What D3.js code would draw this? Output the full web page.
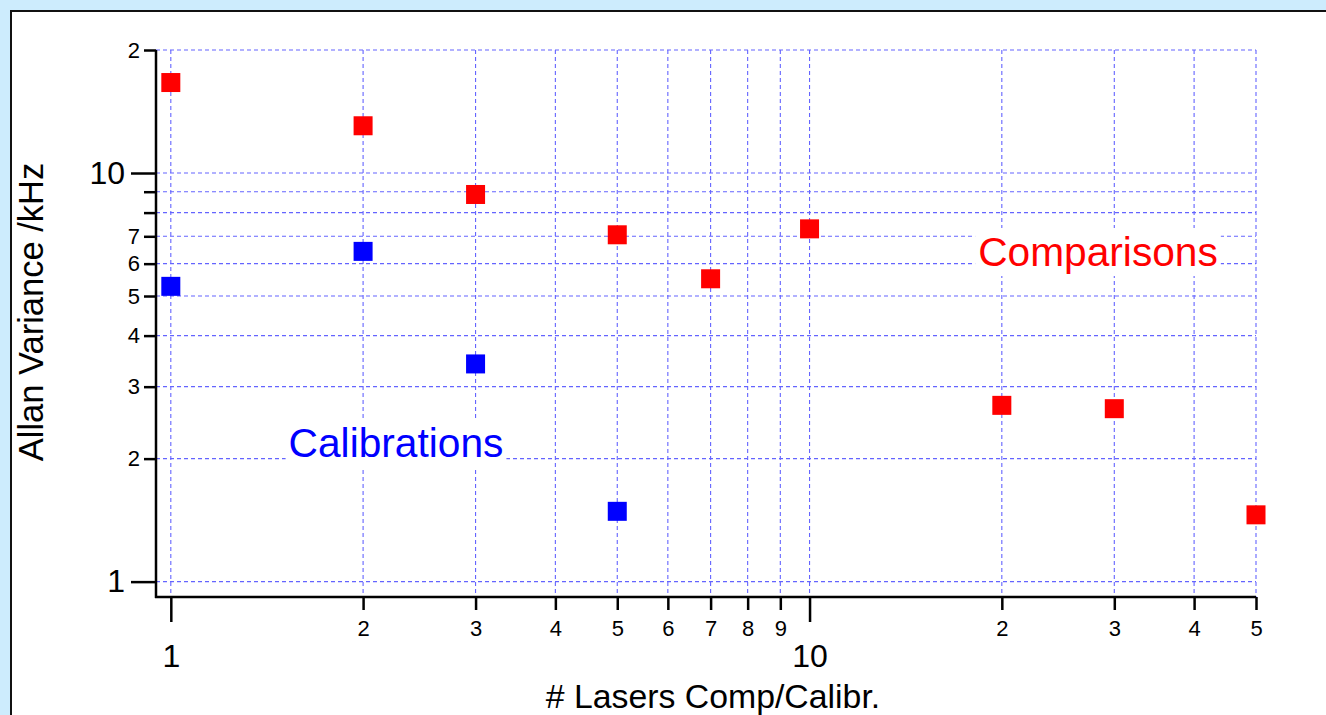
<!DOCTYPE html>
<html lang="en">
<head>
    <meta charset="UTF-8">
    <title>Allan Variance</title>
    <script src="https://d3js.org/d3.v7.min.js"></script>
    <style>
        body { margin: 0; background: #cdecfd; }
        svg { display: block; }
        text { font-family: "Liberation Sans", Arial, Helvetica, sans-serif; }
    </style>
</head>
<body>
<svg width="1326" height="715"></svg>
<script>
    // tick values and labels (Igor-style: minor ticks show only the leading digit)
    const xTicks = [1, 2, 3, 4, 5, 6, 7, 8, 9, 10, 20, 30, 40, 50];
    const xTickLabels = ["1", "2", "3", "4", "5", "6", "7", "8", "9", "10", "2", "3", "4", "5"];
    const yTicks = [1, 2, 3, 4, 5, 6, 7, 8, 9, 10, 20];
    const yTickLabels = ["1", "2", "3", "4", "5", "6", "7", "", "", "10", "2"];
    const majorTicks = [1, 10];

    // comparisons (red)
    const compLasers = [1, 2, 3, 5, 7, 10, 20, 30, 50];
    const compVariance = [16.65, 13.05, 8.86, 7.06, 5.51, 7.30, 2.70, 2.65, 1.457];

    // calibrations (blue)
    const calLasers = [1, 2, 3, 5];
    const calVariance = [5.28, 6.43, 3.41, 1.486];

    var svg = d3.select("svg");

    // white panel with black frame
    svg.append("rect")
        .attr("x", 11).attr("y", 11)
        .attr("width", 1400).attr("height", 800)
        .attr("fill", "#fff")
        .attr("stroke", "#111")
        .attr("stroke-width", 2);

    var plotL = 156, plotR = 1256, plotT = 50, plotB = 597;

    var x = d3.scaleLog().domain([0.948, 50]).range([plotL, plotR]);
    var y = d3.scaleLog().domain([0.917, 20]).range([plotB, plotT]);

    // grid
    var grid = svg.append("g")
        .attr("stroke", "#6464ff")
        .attr("stroke-width", 1.1)
        .attr("stroke-dasharray", "4,3");

    grid.selectAll(".hg")
        .data(yTicks)
        .enter().append("line")
        .attr("x1", plotL).attr("x2", plotR)
        .attr("y1", function (d) { return y(d); })
        .attr("y2", function (d) { return y(d); });

    grid.selectAll(".vg")
        .data(xTicks)
        .enter().append("line")
        .attr("y1", plotT).attr("y2", plotB)
        .attr("x1", function (d) { return x(d); })
        .attr("x2", function (d) { return x(d); });

    // labels with white knock-out boxes
    function addLabel(txt, cx, baseline, color) {
        var g = svg.append("g");
        var box = g.append("rect").attr("fill", "#fff");
        var t = g.append("text")
            .attr("x", cx).attr("y", baseline)
            .attr("text-anchor", "middle")
            .attr("font-size", "40.7px")
            .attr("fill", color)
            .text(txt);
        var bb = t.node().getBBox();
        box.attr("x", bb.x - 3).attr("y", bb.y - 1)
            .attr("width", bb.width + 6).attr("height", bb.height + 2);
    }
    addLabel("Comparisons", 1098, 266, "#ff0000");
    addLabel("Calibrations", 396, 457, "#0000ff");

    // axes
    var xAxis = svg.append("g")
        .attr("transform", "translate(0," + plotB + ")")
        .call(d3.axisBottom(x).tickValues(xTicks).tickSize(13).tickSizeOuter(0)
            .tickFormat(function (d, i) { return xTickLabels[i]; }));

    var yAxis = svg.append("g")
        .attr("transform", "translate(" + plotL + ",0)")
        .call(d3.axisLeft(y).tickValues(yTicks).tickSize(12).tickSizeOuter(0)
            .tickFormat(function (d, i) { return yTickLabels[i]; }));

    [xAxis, yAxis].forEach(function (a) {
        a.attr("font-size", null).attr("font-family", null);
        a.select(".domain").attr("stroke", "#000").attr("stroke-width", 2.5);
        a.selectAll(".tick line").attr("stroke", "#000").attr("stroke-width", 2.5);
        a.selectAll(".tick text").attr("fill", "#000")
            .style("font-size", "22px");
    });
    xAxis.select(".domain").attr("d", "M" + (plotL - 1) + ",0H" + plotR);
    yAxis.select(".domain").attr("d", "M0," + plotT + "V" + (plotB + 1));

    xAxis.selectAll(".tick text").attr("y", 23);
    yAxis.selectAll(".tick text").attr("x", -16);

    xAxis.selectAll(".tick")
        .filter(function (d) { return majorTicks.indexOf(d) >= 0; })
        .call(function (t) {
            t.select("line").attr("y2", 25);
            t.select("text").attr("y", 47).style("font-size", "32px");
        });
    yAxis.selectAll(".tick")
        .filter(function (d) { return majorTicks.indexOf(d) >= 0; })
        .call(function (t) {
            t.select("line").attr("x2", -25);
            t.select("text").attr("x", -31).style("font-size", "32px");
        });

    // axis titles
    svg.append("text")
        .attr("transform", "translate(43,312) rotate(-90)")
        .attr("text-anchor", "middle")
        .attr("font-size", "34.5px")
        .text("Allan Variance /kHz");

    svg.append("text")
        .attr("x", 713).attr("y", 708)
        .attr("text-anchor", "middle")
        .attr("font-size", "33.8px")
        .text("# Lasers Comp/Calibr.");

    // markers
    var s = 19;
    svg.selectAll(".comp")
        .data(compLasers)
        .enter().append("rect")
        .attr("x", function (d) { return x(d) - s / 2; })
        .attr("y", function (d, i) { return y(compVariance[i]) - s / 2; })
        .attr("width", s).attr("height", s)
        .attr("fill", "#ff0000");

    svg.selectAll(".cal")
        .data(calLasers)
        .enter().append("rect")
        .attr("x", function (d) { return x(d) - s / 2; })
        .attr("y", function (d, i) { return y(calVariance[i]) - s / 2; })
        .attr("width", s).attr("height", s)
        .attr("fill", "#0000ff");
</script>
</body>
</html>
